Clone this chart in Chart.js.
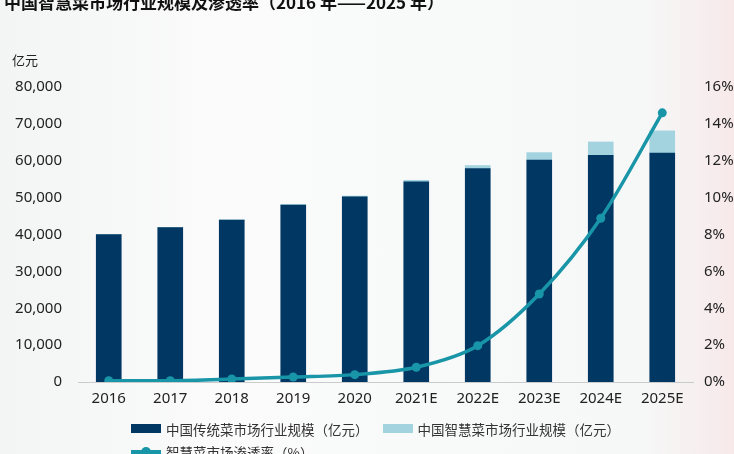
<!DOCTYPE html>
<html>
<head>
<meta charset="utf-8">
<script src="https://cdn.jsdelivr.net/npm/chart.js@4.4.0/dist/chart.umd.min.js"></script>
<style>
  html, body { margin: 0; padding: 0; }
  body {
    width: 734px; height: 454px; overflow: hidden; position: relative;
    background: linear-gradient(to right, #f3f4f4 0%, #fbfbfb 30%, #f8f9f9 60%, #f6f7f7 88%, #f7e9ea 100%);
    font-family: "Noto Sans", "Noto Sans CJK SC", sans-serif;
  }
  #wrap { position: absolute; left: 0; top: 0; width: 734px; height: 454px; }
  #title {
    position: absolute; left: 4px; top: -11px; margin: 0;
    font: bold 17px "Noto Sans CJK SC", "Noto Sans", sans-serif; color: #111; white-space: nowrap;
  }
  #unit {
    position: absolute; left: 12px; top: 50px;
    font: 13px "Noto Sans CJK SC", sans-serif; color: #222;
  }
  #legend { position: absolute; left: 131px; top: 417px; font: 13.5px "Noto Sans CJK SC", sans-serif; color: #333; }
  .row { display: flex; align-items: center; height: 23px; white-space: nowrap; }
  .item { display: flex; align-items: center; margin-right: 14px; }
  .sw { width: 30px; height: 9px; margin-right: 5px; }
  .ln { width: 30px; height: 10px; margin-right: 5px; position: relative; }
  .ln i { position: absolute; left: 0; right: 0; top: 3px; height: 4px; }
  .ln b { position: absolute; left: 10px; top: 0; width: 10px; height: 10px; border-radius: 50%; }
</style>
</head>
<body>
<div id="wrap"><canvas id="c" width="734" height="454"></canvas></div>
<div id="title">中国智慧菜市场行业规模及渗透率（2016 年——2025 年）</div>
<div id="unit">亿元</div>
<div id="legend"></div>
<script>
const categories = ['2016', '2017', '2018', '2019', '2020', '2021E', '2022E', '2023E', '2024E', '2025E'];
const traditionalMarket = [40000, 41900, 43900, 48000, 50200, 54300, 57900, 60200, 61500, 62100];
const smartMarket = [30, 40, 80, 140, 220, 400, 800, 2000, 3600, 6000];
const penetrationRate = [0.07, 0.07, 0.16, 0.27, 0.40, 0.80, 1.97, 4.77, 8.88, 14.6];
const seriesNames = ['中国传统菜市场行业规模（亿元）', '中国智慧菜市场行业规模（亿元）', '智慧菜市场渗透率（%）'];
const leftTicks = [0, 10000, 20000, 30000, 40000, 50000, 60000, 70000, 80000];
const rightTicks = [0, 2, 4, 6, 8, 10, 12, 14, 16];

const NAVY = '#003763', LIGHT = '#a3d3df', TEAL = '#1995a8';
const tickFont = { family: '"Noto Sans", sans-serif', size: 15 };

const chart = new Chart(document.getElementById('c'), {
  data: {
    labels: categories,
    datasets: [
      { type: 'line', label: seriesNames[2], data: penetrationRate, yAxisID: 'y1', order: 0,
        borderColor: TEAL, backgroundColor: TEAL, borderWidth: 3.5, tension: 0.3,
        pointRadius: 4.5, pointBackgroundColor: TEAL, pointBorderWidth: 0 },
      { type: 'bar', label: seriesNames[0], data: traditionalMarket, yAxisID: 'y', stack: 's', order: 1,
        backgroundColor: NAVY, barThickness: 25 },
      { type: 'bar', label: seriesNames[1], data: smartMarket, yAxisID: 'y', stack: 's', order: 2,
        backgroundColor: LIGHT, barThickness: 25 }
    ]
  },
  options: {
    responsive: false, animation: false,
    layout: { padding: { top: 87, left: 0, right: 0, bottom: 0 } },
    plugins: { legend: { display: false }, tooltip: { enabled: false }, title: { display: false } },
    scales: {
      x: {
        stacked: true,
        grid: { display: false, drawTicks: false },
        border: { display: true, color: '#c9cbcc', width: 1 },
        ticks: { font: tickFont, color: '#222', padding: 8, maxRotation: 0 },
        afterFit: s => { s.height = 72; }
      },
      y: {
        stacked: true, position: 'left', min: 0, max: 80000,
        grid: { display: false, drawTicks: false }, border: { display: false },
        afterBuildTicks: s => { s.ticks = leftTicks.map(v => ({ value: v })); },
        ticks: { font: tickFont, color: '#222', padding: 16,
          callback: v => v.toLocaleString('en-US') },
        afterFit: s => { s.width = 78; }
      },
      y1: {
        position: 'right', min: 0, max: 16,
        grid: { display: false, drawTicks: false }, border: { display: false },
        afterBuildTicks: s => { s.ticks = rightTicks.map(v => ({ value: v })); },
        ticks: { font: tickFont, color: '#222', padding: 11, callback: v => v + '%' },
        afterFit: s => { s.width = 41; }
      }
    }
  }
});

// HTML legend built from the chart's datasets
const legendOrder = [[1, 2], [0]];
const lg = document.getElementById('legend');
legendOrder.forEach(row => {
  const r = document.createElement('div'); r.className = 'row';
  row.forEach(i => {
    const ds = chart.data.datasets[i];
    const it = document.createElement('div'); it.className = 'item';
    if (ds.type === 'line') {
      it.innerHTML = '<span class="ln"><i style="background:' + ds.borderColor + '"></i><b style="background:' + ds.borderColor + '"></b></span>';
    } else {
      it.innerHTML = '<span class="sw" style="background:' + ds.backgroundColor + '"></span>';
    }
    const t = document.createElement('span'); t.textContent = ds.label; it.appendChild(t);
    r.appendChild(it);
  });
  lg.appendChild(r);
});
</script>
</body>
</html>
